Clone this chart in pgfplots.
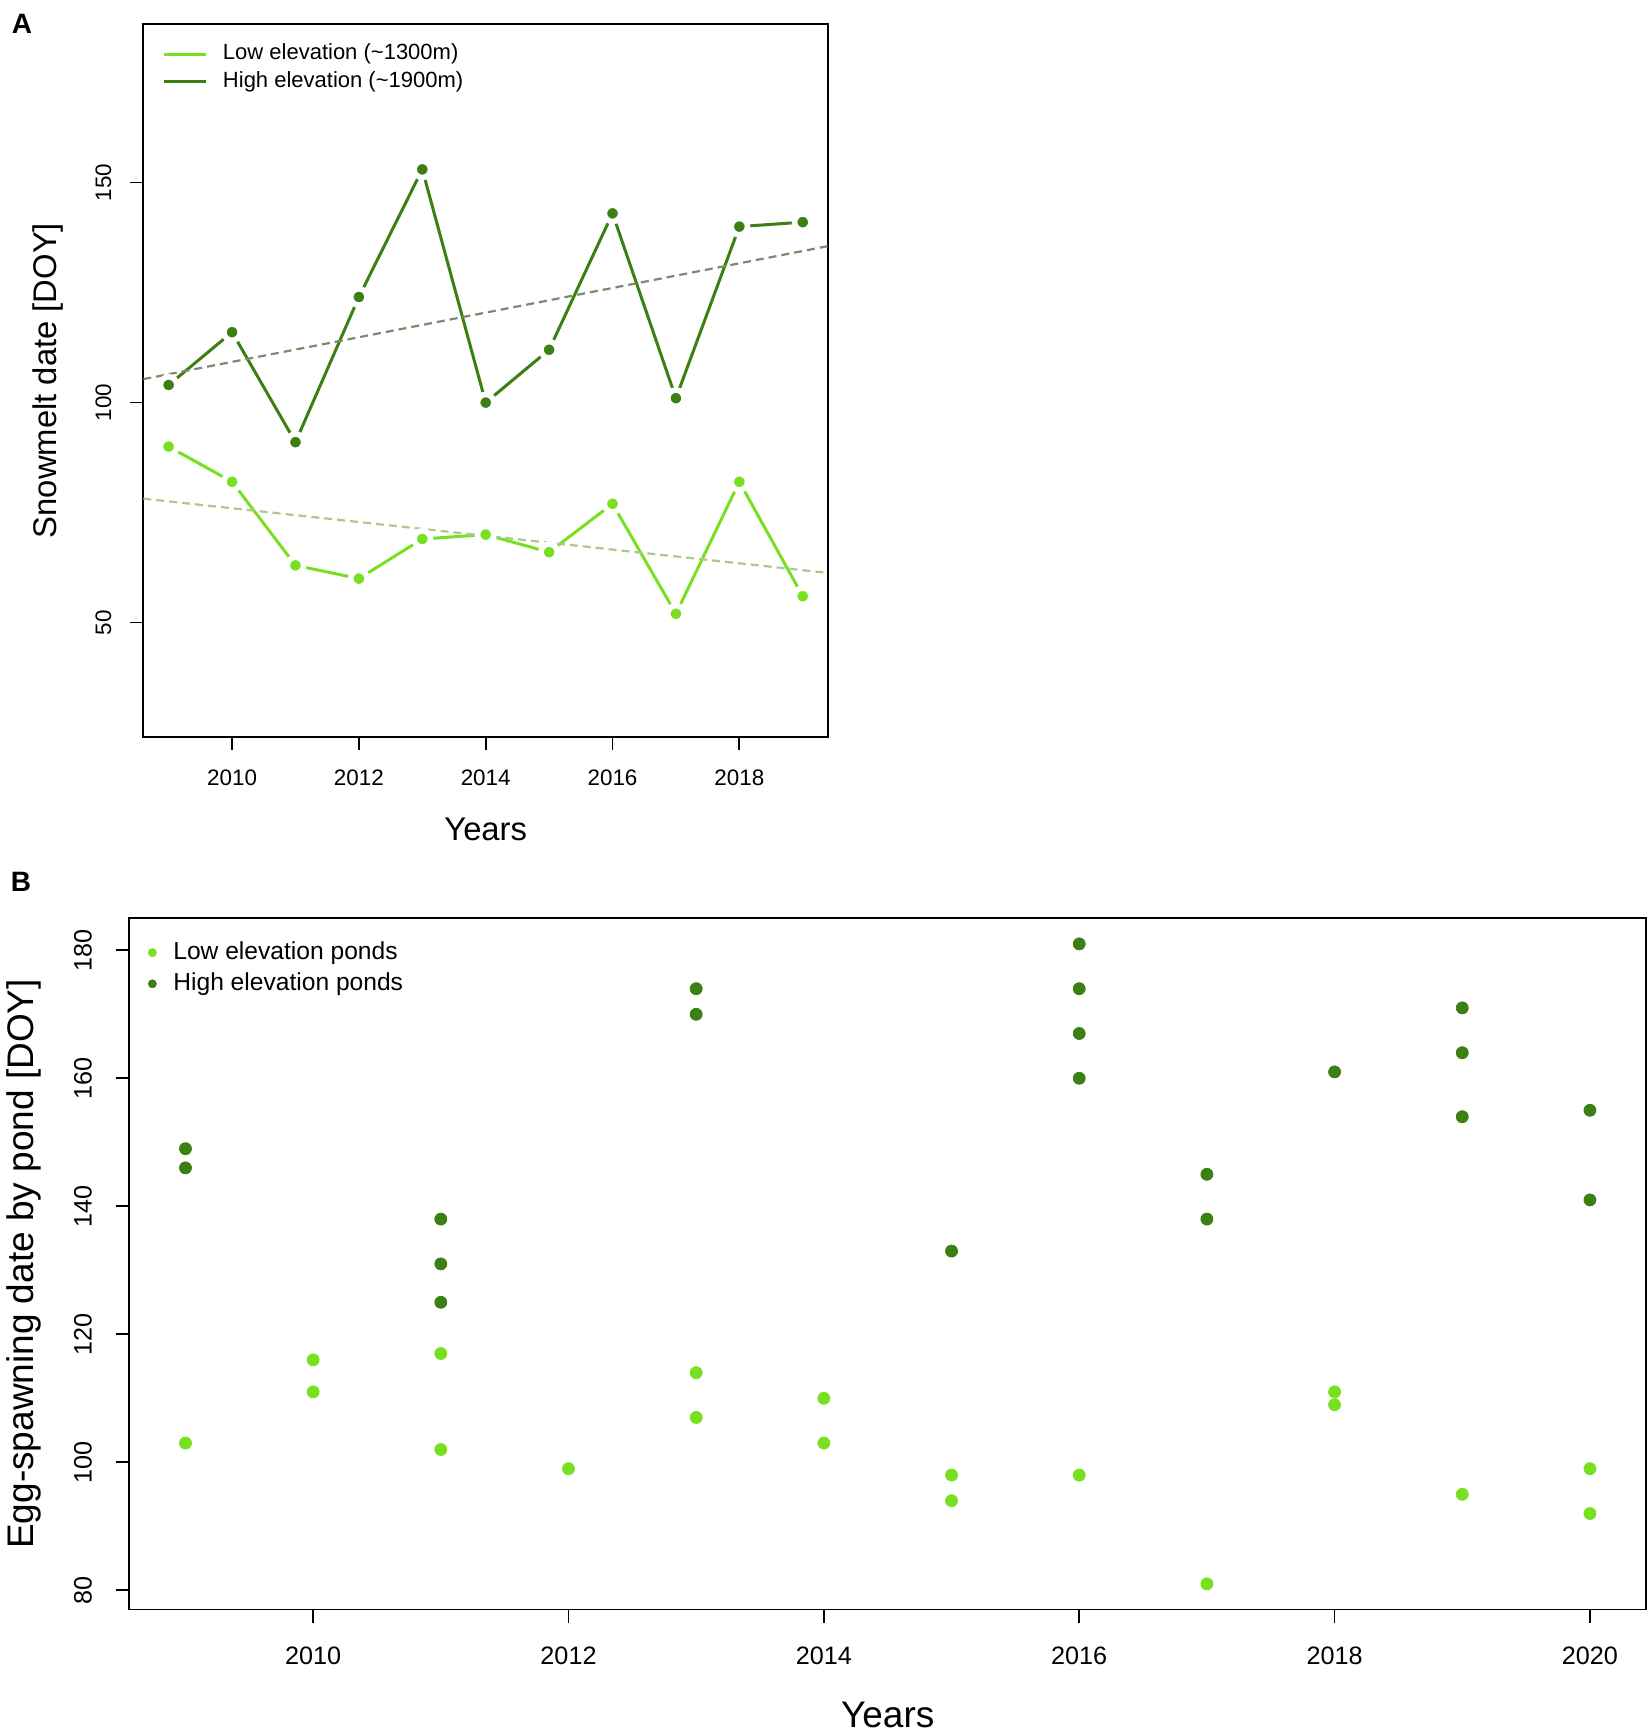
\documentclass[border=0pt]{standalone}
\usepackage{pgfplots}
\pgfplotsset{compat=1.18}
\usepackage{fontspec}
\setmainfont{Liberation Sans}
\definecolor{lowc}{HTML}{78E020}
\definecolor{highc}{HTML}{3C8014}
\definecolor{lowtr}{HTML}{A9C98E}
\definecolor{hightr}{HTML}{7C8A6C}
\pgfplotsset{
  rstyle/.style={
    scale only axis,
    axis line style={line width=0.9pt},
    every tick/.style={line width=0.9pt, black},
    tick align=outside,
    major tick length=6.5pt,
    xtick pos=bottom, ytick pos=left,
    /pgf/number format/assume math mode=true,
    /pgf/number format/1000 sep={},
    xticklabel style={anchor=center},
    yticklabel style={rotate=90, anchor=center},
    legend cell align=left,
  }
}
\begin{document}
\begin{tikzpicture}
\path[use as bounding box] (0,0) rectangle (825pt,867pt);
\node[font=\fontsize{14}{16}\selectfont\bfseries] at (11pt,855pt) {A};
\node[font=\fontsize{14}{16}\selectfont\bfseries] at (10.5pt,426pt) {B};
% ---------------- Panel A
\begin{axis}[rstyle,
  at={(71.65pt,498.5pt)}, anchor=south west,
  width=342.4pt, height=356.4pt,
  xmin=2008.6, xmax=2019.4, ymin=24, ymax=186,
  xtick={2010,2012,2014,2016,2018}, ytick={50,100,150},
  ticklabel style={font=\fontsize{11.2}{13}\selectfont},
  xticklabel shift=13.8pt, yticklabel shift=13.4pt,
  xlabel={Years}, ylabel={Snowmelt date [DOY]},
  label style={font=\fontsize{16.4}{19}\selectfont},
  xlabel style={at={(axis description cs:0.5,0)}, anchor=center, yshift=-46pt},
  ylabel style={at={(axis description cs:-0.1392,0.5)}, anchor=center},
  legend image code/.code={\draw[#1] (0pt,0pt) -- (21pt,0pt);},
  legend style={at={(axis description cs:0.0273,0.978)}, anchor=north west,
    draw=none, fill=none, inner sep=0pt, row sep=0pt,
    nodes={inner sep=0pt, text height=9.6pt, text depth=4.3pt, font=\fontsize{11}{13}\selectfont},
    /tikz/every odd column/.append style={column sep=7.8pt}},
]
\addplot[lowc, line width=1.5pt, mark=*, mark size=4.1pt,
  mark options={draw=white, line width=2.8pt, fill=lowc}]
  coordinates {(2009,90) (2010,82) (2011,63) (2012,60) (2013,69) (2014,70)
               (2015,66) (2016,77) (2017,52) (2018,82) (2019,56)};
\addlegendentry{Low elevation (\textasciitilde 1300m)}
\addplot[highc, line width=1.5pt, mark=*, mark size=4.1pt,
  mark options={draw=white, line width=2.8pt, fill=highc}]
  coordinates {(2009,104) (2010,116) (2011,91) (2012,124) (2013,153) (2014,100)
               (2015,112) (2016,143) (2017,101) (2018,140) (2019,141)};
\addlegendentry{High elevation (\textasciitilde 1900m)}
\addplot[lowtr, line width=1.1pt, dash pattern=on 4pt off 2.5pt, forget plot]
  coordinates {(2008.6,78.17) (2019.4,61.28)};
\addplot[hightr, line width=1.1pt, dash pattern=on 4pt off 2.5pt, forget plot]
  coordinates {(2008.6,105.33) (2019.4,135.57)};
\end{axis}
% ---------------- Panel B
\begin{axis}[rstyle,
  at={(64.65pt,62.25pt)}, anchor=south west,
  width=758.4pt, height=345.6pt,
  xmin=2008.56, xmax=2020.44, ymin=77, ymax=185,
  xtick={2010,2012,2014,2016,2018,2020}, ytick={80,100,120,140,160,180},
  ticklabel style={font=\fontsize{12.6}{14}\selectfont},
  xticklabel shift=16.75pt, yticklabel shift=16.65pt,
  xlabel={Years}, ylabel={Egg-spawning date by pond [DOY]},
  label style={font=\fontsize{18.5}{22}\selectfont},
  xlabel style={at={(axis description cs:0.5,0)}, anchor=center, yshift=-52.6pt},
  ylabel style={at={(axis description cs:-0.0698,0.5)}, anchor=center},
  legend image code/.code={\draw[#1, mark size=2pt] plot coordinates {(0pt,0pt)};},
  legend style={at={(axis description cs:0.0123,0.9735)}, anchor=north west,
    draw=none, fill=none, inner sep=0pt, row sep=0pt,
    nodes={inner sep=0pt, text height=11pt, text depth=4.6pt, font=\fontsize{12.3}{14}\selectfont},
    /tikz/every odd column/.append style={column sep=8.5pt}},
]
\addplot[only marks, mark=*, mark size=3pt, lowc, mark options={fill=lowc, draw=lowc}]
  coordinates {(2009,103) (2010,116) (2010,111) (2011,117) (2011,102) (2012,99)
               (2013,114) (2013,107) (2014,110) (2014,103) (2015,98) (2015,94)
               (2016,98) (2017,81) (2018,111) (2018,109) (2019,95) (2020,99) (2020,92)};
\addlegendentry{Low elevation ponds}
\addplot[only marks, mark=*, mark size=3pt, highc, mark options={fill=highc, draw=highc}]
  coordinates {(2009,149) (2009,146) (2011,138) (2011,131) (2011,125) (2013,174) (2013,170)
               (2015,133) (2016,181) (2016,174) (2016,167) (2016,160) (2017,145) (2017,138)
               (2018,161) (2019,171) (2019,164) (2019,154) (2020,155) (2020,141)};
\addlegendentry{High elevation ponds}
\end{axis}
\end{tikzpicture}
\end{document}
